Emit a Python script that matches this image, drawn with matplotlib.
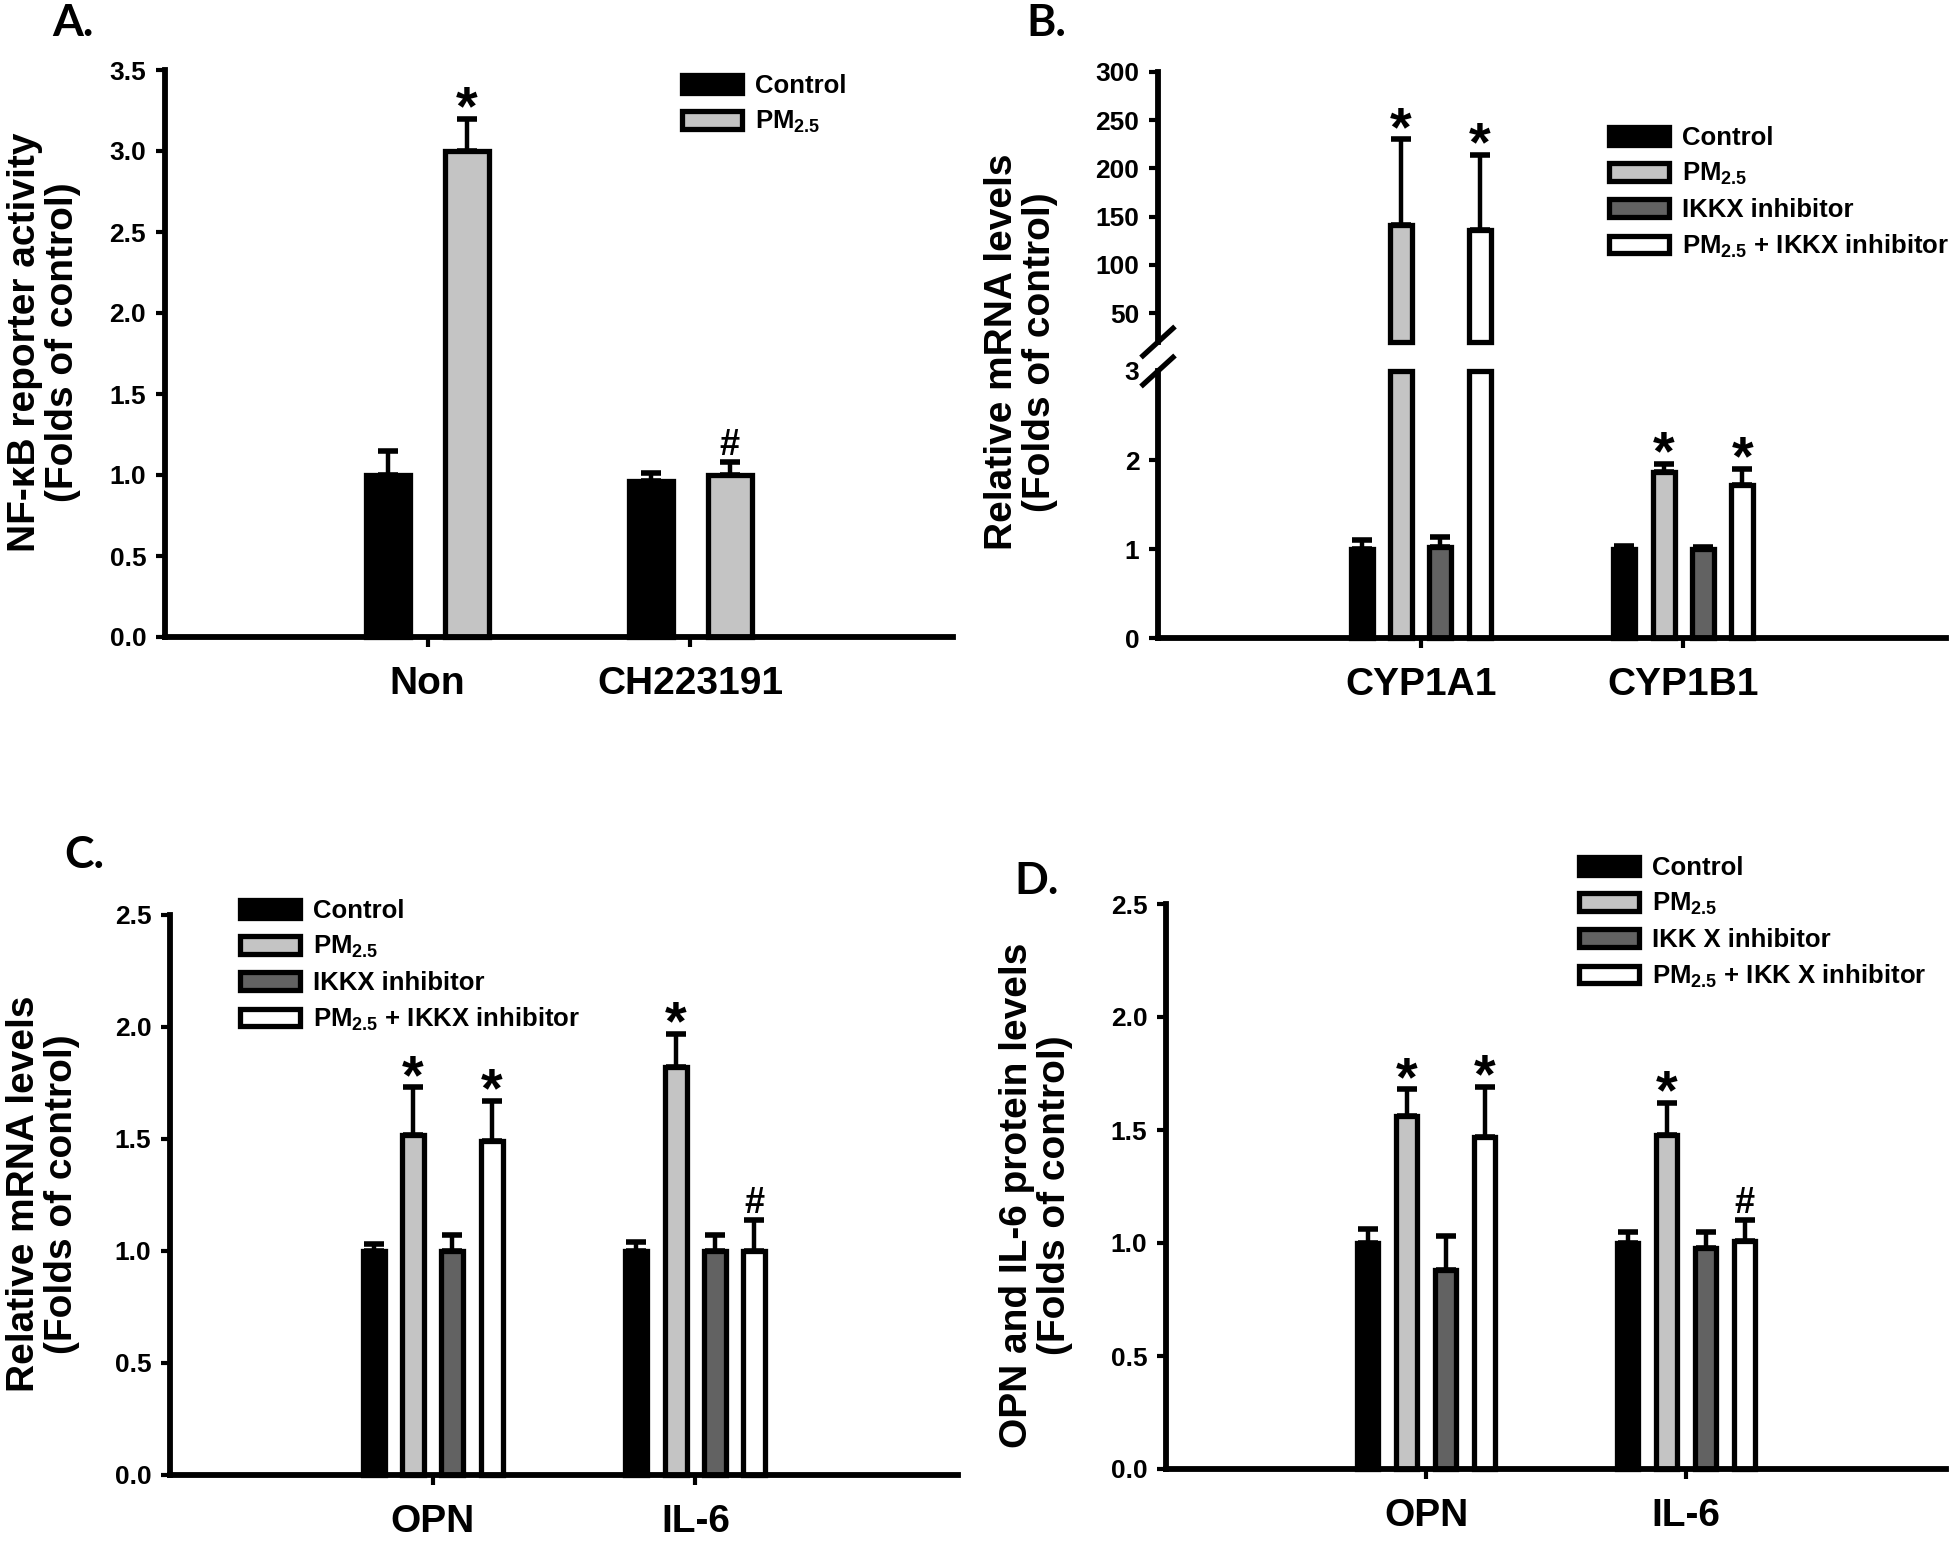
import matplotlib
matplotlib.use("Agg")
import matplotlib.pyplot as plt
from matplotlib.patches import Patch

plt.rcParams.update({
    "font.family": ["Liberation Sans", "DejaVu Sans"],
    "font.weight": "bold",
    "mathtext.fontset": "custom",
    "mathtext.rm": "Liberation Sans:bold",
    "mathtext.it": "Liberation Sans:bold",
    "mathtext.bf": "Liberation Sans:bold",
    "mathtext.default": "rm",
})

W, H = 1960, 1541

# ---- panel A: NF-kB reporter ----
a_groups = ["Non", "CH223191"]
a_control = [1.00, 0.96]
a_control_err = [0.15, 0.05]
a_pm = [3.00, 1.00]
a_pm_err = [0.20, 0.08]
a_pm_marks = ["*", "#"]

# ---- panel B: CYP mRNA (broken axis) ----
b_groups = ["CYP1A1", "CYP1B1"]
b_control = [1.00, 1.00]
b_control_err = [0.10, 0.03]
b_pm = [141.0, 1.87]
b_pm_err = [89.0, 0.09]
b_ikk = [1.02, 1.00]
b_ikk_err = [0.12, 0.02]
b_pm_ikk = [136.0, 1.72]
b_pm_ikk_err = [78.0, 0.18]
b_pm_marks = ["*", "*"]
b_pm_ikk_marks = ["*", "*"]

# ---- panel C: OPN / IL-6 mRNA ----
c_groups = ["OPN", "IL-6"]
c_control = [1.00, 1.00]
c_control_err = [0.03, 0.04]
c_pm = [1.52, 1.82]
c_pm_err = [0.21, 0.15]
c_ikk = [1.00, 1.00]
c_ikk_err = [0.07, 0.07]
c_pm_ikk = [1.49, 1.00]
c_pm_ikk_err = [0.18, 0.14]
c_pm_marks = ["*", "*"]
c_pm_ikk_marks = ["*", "#"]

# ---- panel D: OPN / IL-6 protein ----
d_groups = ["OPN", "IL-6"]
d_control = [1.00, 1.00]
d_control_err = [0.06, 0.05]
d_pm = [1.56, 1.48]
d_pm_err = [0.12, 0.14]
d_ikk = [0.88, 0.98]
d_ikk_err = [0.15, 0.07]
d_pm_ikk = [1.47, 1.01]
d_pm_ikk_err = [0.22, 0.09]
d_pm_marks = ["*", "*"]
d_pm_ikk_marks = ["*", "#"]

labels2 = ["Control", "PM$_{2.5}$"]
labels4 = ["Control", "PM$_{2.5}$", "IKKX inhibitor", "PM$_{2.5}$ + IKKX inhibitor"]
labels4d = ["Control", "PM$_{2.5}$", "IKK X inhibitor", "PM$_{2.5}$ + IKK X inhibitor"]
colors = ["#000000", "#c4c4c4", "#626262", "#ffffff"]

SPINE = 4.2
EDGE = 3.8
TICKFS = 19
CATFS = 28
LABFS = 28

fig = plt.figure(figsize=(W / 100, H / 100), dpi=100)


def px_axes(left, top, right, bottom):
    return fig.add_axes([left / W, 1 - bottom / H, (right - left) / W, (bottom - top) / H])


def style(ax, cats=None):
    for s in ("top", "right"):
        ax.spines[s].set_visible(False)
    for s in ("left", "bottom"):
        ax.spines[s].set_linewidth(SPINE)
        ax.spines[s].set_capstyle("projecting")
    ax.set_xlim(0, 3)
    ax.tick_params(axis="y", direction="out", length=6.5, width=3, pad=7, labelsize=TICKFS)
    if cats is not None:
        ax.set_xticks([1, 2])
        ax.set_xticklabels(cats, fontsize=CATFS, fontweight="bold")
        ax.tick_params(axis="x", direction="out", length=7, width=3, pad=14)
    else:
        ax.set_xticks([])
        ax.spines["bottom"].set_visible(False)


def mark(ax, x, y, sym):
    if sym == "*":
        ax.annotate(sym, (x, y), xytext=(0, -4), textcoords="offset points", ha="center",
                    va="baseline", fontsize=40, fontweight="bold", annotation_clip=False)
    else:
        ax.annotate(sym, (x, y), xytext=(0, 5), textcoords="offset points", ha="center",
                    va="baseline", fontsize=26, fontweight="bold", annotation_clip=False)


def bars(ax, offsets, width, series, errs, cols, marks, bottom=0.0, top=None, only_tall=None):
    for k, (vals, err, col, mk) in enumerate(zip(series, errs, cols, marks)):
        for i, (v, e) in enumerate(zip(vals, err)):
            if only_tall is not None and v <= only_tall:
                continue
            x = i + 1 + offsets[k]
            cut = top is not None and v > top
            h = (top if cut else v) - bottom
            ax.bar(x, h, width, bottom=bottom, color=col, edgecolor="black",
                   linewidth=EDGE, zorder=2, clip_on=False)
            if cut:
                continue
            ax.errorbar(x, v, yerr=[[0], [e]], fmt="none", ecolor="black", elinewidth=3.2,
                        capsize=7, capthick=4, zorder=1, clip_on=False)
            if mk and mk[i]:
                mark(ax, x, v + e, mk[i])


def legend(ax, labels, cols, x0, y0):
    handles = [Patch(facecolor=c, edgecolor="black", linewidth=EDGE) for c in cols]
    ax.legend(handles, labels, loc="upper left", bbox_to_anchor=(x0 / W, 1 - y0 / H),
              bbox_transform=fig.transFigure, frameon=False, fontsize=18.5,
              handlelength=2.35, handleheight=0.68, handletextpad=0.5, labelspacing=0.42,
              borderpad=0, borderaxespad=0)


def ylab(text, x, y):
    fig.text(x / W, 1 - y / H, text, rotation=90, ha="center", va="center",
             multialignment="center", fontsize=LABFS, fontweight="bold", linespacing=1.1)


def letter(text, x, y):
    fig.text(x / W, 1 - y / H, text, ha="left", va="baseline", fontsize=32,
             fontweight="bold", family=["Lato", "DejaVu Sans"])


off2 = [-0.15, 0.15]
off4 = [-0.225, -0.075, 0.075, 0.225]

# ---------------- A ----------------
axa = px_axes(165, 70, 953, 637)
style(axa, a_groups)
axa.set_ylim(0, 3.5)
axa.set_yticks([0, 0.5, 1, 1.5, 2, 2.5, 3, 3.5])
axa.set_yticklabels([f"{t:.1f}" for t in axa.get_yticks()])
bars(axa, off2, 0.168, [a_control, a_pm], [a_control_err, a_pm_err], colors[:2],
     [None, a_pm_marks])
legend(axa, labels2, colors[:2], 682, 74)
ylab("NF-\u03baB reporter activity\n(Folds of control)", 44, 342)
letter("A.", 52, 36)

# ---------------- B ----------------
axb = px_axes(1158, 371, 1946, 638)
style(axb, b_groups)
axb.set_ylim(0, 3)
axb.set_yticks([0, 1, 2, 3])
axb.yaxis.get_major_ticks()[-1].tick1line.set_visible(False)
axb_up = px_axes(1158, 72, 1946, 342)
style(axb_up)
axb_up.set_ylim(20, 300)
axb_up.set_yticks([50, 100, 150, 200, 250, 300])

b_series = [b_control, b_pm, b_ikk, b_pm_ikk]
b_errs = [b_control_err, b_pm_err, b_ikk_err, b_pm_ikk_err]
b_marks = [None, b_pm_marks, None, b_pm_ikk_marks]
# lower segment: tall bars are cut at 3, their error bars go on the upper segment
bars(axb, off4, 0.084, b_series, b_errs, colors, b_marks, top=3)
bars(axb_up, off4, 0.084, b_series, b_errs, colors, b_marks, bottom=20, only_tall=3)

# break marks on the y axis
for ax_, yb in ((axb_up, 0.0), (axb, 1.0)):
    h_ax = ax_.get_position().height * H
    dx, dy = 17 / 788, 15.5 / h_ax
    ax_.plot([-dx, dx], [yb - dy, yb + dy], transform=ax_.transAxes, color="black",
             lw=3.8, clip_on=False, solid_capstyle="butt")

legend(axb_up, labels4, colors, 1609, 126)
ylab("Relative mRNA levels\n(Folds of control)", 1021, 352)
letter("B.", 1026, 36)

# ---------------- C ----------------
axc = px_axes(170, 915, 958, 1475)
style(axc, c_groups)
axc.set_ylim(0, 2.5)
axc.set_yticks([0, 0.5, 1, 1.5, 2, 2.5])
axc.set_yticklabels([f"{t:.1f}" for t in axc.get_yticks()])
bars(axc, off4, 0.084, [c_control, c_pm, c_ikk, c_pm_ikk],
     [c_control_err, c_pm_err, c_ikk_err, c_pm_ikk_err], colors,
     [None, c_pm_marks, None, c_pm_ikk_marks])
legend(axc, labels4, colors, 240, 899)
ylab("Relative mRNA levels\n(Folds of control)", 43, 1194)
letter("C.", 64, 868)

# ---------------- D ----------------
axd = px_axes(1166, 904, 1946, 1469)
style(axd, d_groups)
axd.set_ylim(0, 2.5)
axd.set_yticks([0, 0.5, 1, 1.5, 2, 2.5])
axd.set_yticklabels([f"{t:.1f}" for t in axd.get_yticks()])
bars(axd, off4, 0.084, [d_control, d_pm, d_ikk, d_pm_ikk],
     [d_control_err, d_pm_err, d_ikk_err, d_pm_ikk_err], colors,
     [None, d_pm_marks, None, d_pm_ikk_marks])
legend(axd, labels4d, colors, 1579, 856)
ylab("OPN and IL-6 protein levels\n(Folds of control)", 1036, 1195)
letter("D.", 1014, 894)

fig.savefig("out.png", dpi=100)
